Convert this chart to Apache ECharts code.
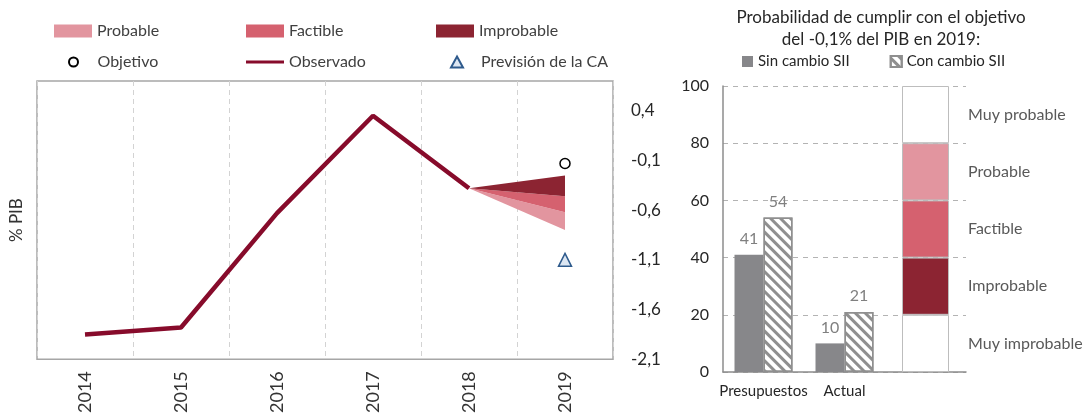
<!DOCTYPE html>
<html>
<head>
<meta charset="utf-8">
<script src="https://cdn.jsdelivr.net/npm/echarts@6/dist/echarts.min.js"></script>
<style>
  html, body { margin: 0; padding: 0; background: #fff; }
  #chart { width: 1090px; height: 416px; }
</style>
</head>
<body>
<div id="chart"></div>
<script>
// panel izquierdo: saldo observado y abanico 2019 (% PIB)
const years = ['2014', '2015', '2016', '2017', '2018', '2019'];
const observado = [-1.85, -1.78, -0.63, 0.35, -0.38, '-'];
const objetivo = ['-', '-', '-', '-', '-', -0.13];
const prevision = ['-', '-', '-', '-', '-', -1.10];
const fanStart = -0.38;                 // arranque del abanico (2018)
const fanImprobable = [-0.25, -0.46];   // [alto, bajo] en 2019
const fanFactible = [-0.46, -0.62];
const fanProbable = [-0.62, -0.80];
const pibTicks = [0.4, -0.1, -0.6, -1.1, -1.6, -2.1];

// panel derecho: probabilidad de cumplir
const escenarios = ['Presupuestos', 'Actual', ''];
const sinCambio = [41, 10, '-'];
const conCambio = [54, 21, '-'];
const escalaNombres = ['Muy improbable', 'Improbable', 'Factible', 'Probable', 'Muy probable'];
const escalaTramos = [20, 20, 20, 20, 20];

const C_PROB = '#e2959f', C_FACT = '#d5616f', C_IMPR = '#8c2432';
const escalaColores = ['#ffffff', C_IMPR, C_FACT, C_PROB, '#ffffff'];

const chart = echarts.init(document.getElementById('chart'));

function fanItem(params, api) {
  const p0 = api.coord([years.indexOf('2018'), fanStart]);
  const p1 = api.coord([api.value(0), api.value(1)]);
  const p2 = api.coord([api.value(0), api.value(2)]);
  return { type: 'polygon', shape: { points: [p0, p1, p2] }, style: { fill: api.visual('color') } };
}
function fanSeries(name, band, color) {
  return {
    name, type: 'custom', xAxisIndex: 0, yAxisIndex: 1,
    renderItem: fanItem, encode: { x: 0, y: [1, 2] },
    itemStyle: { color },
    data: [[years.indexOf('2019'), band[0], band[1]]]
  };
}

// una leyenda por elemento para fijar la rejilla de 3 columnas
function leyenda(left, top, name, icon, h) {
  return {
    left, top, padding: 0, itemWidth: 38, itemHeight: h,
    textStyle: { fontSize: 16, color: '#404040', lineHeight: 18 },
    data: [icon ? { name, icon } : { name }]
  };
}
const LINEA = 'path://M0,0 L38,0 L38,3 L0,3 Z';
const TRIANGULO = 'path://M6,0 L12,11 L0,11 Z';

const option = {
  animation: false,
  textStyle: { fontFamily: 'Lato' },
  title: {
    text: 'Probabilidad de cumplir con el objetivo\ndel -0,1% del PIB en 2019:',
    left: 881, top: 7, padding: 0, textAlign: 'center',
    textStyle: { fontSize: 17, fontWeight: 'normal', color: '#262626', lineHeight: 22 }
  },
  legend: [
    leyenda(54, 22, 'Probable', 'rect', 13),
    leyenda(246, 22, 'Factible', 'rect', 13),
    leyenda(436, 22, 'Improbable', 'rect', 13),
    leyenda(68, 53, 'Objetivo', 'circle', 9),
    leyenda(246, 53, 'Observado', LINEA, 13),
    leyenda(450, 53, 'Previsión de la CA', TRIANGULO, 11),
    {
      left: 742, top: 54, padding: 0, itemWidth: 11, itemHeight: 11, itemGap: 40, icon: 'rect',
      textStyle: { fontSize: 15, color: '#262626' },
      data: ['Sin cambio SII', 'Con cambio SII']
    }
  ],
  grid: [
    { left: 35, top: 81, width: 578, height: 283, show: true, borderColor: '#a6a6a6', borderWidth: 1.5 },
    { left: 723, top: 86, width: 243, height: 286 }
  ],
  xAxis: [
    {
      gridIndex: 0, type: 'category', data: years,
      axisLine: { show: false }, axisTick: { show: false },
      splitLine: { show: true, interval: 0, lineStyle: { color: '#d3d3d3', type: [5, 4] } },
      axisLabel: { interval: 0, rotate: 90, margin: 12, fontSize: 18, color: '#333' }
    },
    {
      gridIndex: 1, type: 'category', data: escenarios,
      axisLine: { lineStyle: { color: '#8c8c8c', width: 1.5 } }, axisTick: { show: false },
      axisLabel: { interval: 0, fontSize: 15, color: '#262626', margin: 12 }
    },
    { gridIndex: 1, type: 'category', data: escenarios, show: false }
  ],
  yAxis: [
    {
      gridIndex: 0, type: 'value', min: -2.1, max: 0.7,
      name: '% PIB', nameLocation: 'middle', nameGap: 12, nameRotate: 90,
      nameTextStyle: { fontSize: 17, color: '#333' },
      axisLabel: { show: false }, axisLine: { show: false }, axisTick: { show: false }, splitLine: { show: false }
    },
    {
      gridIndex: 0, type: 'value', position: 'right', min: -2.1, max: 0.7,
      axisLabel: {
        customValues: pibTicks, margin: 18, fontSize: 17, color: '#262626',
        formatter: v => String(v).replace('.', ',')
      },
      axisLine: { show: false }, axisTick: { show: false }, splitLine: { show: false }
    },
    {
      gridIndex: 1, type: 'value', min: 0, max: 100, interval: 20,
      axisLine: { show: true, lineStyle: { color: '#8c8c8c', width: 1.5 } }, axisTick: { show: false },
      splitLine: { lineStyle: { color: '#b3b3b3', type: [5, 5] } },
      axisLabel: { fontSize: 16, color: '#262626', margin: 14 }
    },
    { gridIndex: 1, type: 'value', min: 0, max: 100, show: false }
  ],
  series: [
    fanSeries('Probable', fanProbable, C_PROB),
    fanSeries('Factible', fanFactible, C_FACT),
    fanSeries('Improbable', fanImprobable, C_IMPR),
    {
      name: 'Observado', type: 'line', xAxisIndex: 0, yAxisIndex: 1,
      data: observado, symbol: 'none',
      lineStyle: { color: '#870b2b', width: 4.5 }, itemStyle: { color: '#870b2b' }
    },
    {
      name: 'Objetivo', type: 'scatter', xAxisIndex: 0, yAxisIndex: 1,
      data: objetivo, symbol: 'circle', symbolSize: 10,
      itemStyle: { color: '#fff', borderColor: '#000', borderWidth: 1.5, opacity: 1 }
    },
    {
      name: 'Previsión de la CA', type: 'scatter', xAxisIndex: 0, yAxisIndex: 1,
      data: prevision, symbol: 'triangle', symbolSize: 13, symbolKeepAspect: true,
      itemStyle: { color: '#dce6f2', borderColor: '#2e5a8c', borderWidth: 1.5, opacity: 1 }
    },
    {
      name: 'Sin cambio SII', type: 'bar', xAxisIndex: 1, yAxisIndex: 2,
      data: sinCambio, barWidth: 29, barGap: '0%',
      itemStyle: { color: '#87878a' },
      label: { show: true, position: 'top', distance: 8, fontSize: 16, color: '#808080' }
    },
    {
      name: 'Con cambio SII', type: 'bar', xAxisIndex: 1, yAxisIndex: 2,
      data: conCambio, barWidth: 29, barGap: '0%',
      itemStyle: {
        color: '#ffffff', borderColor: '#8f8f8f', borderWidth: 1.5,
        decal: { symbol: 'rect', symbolSize: 1, color: '#8f8f8f', dashArrayX: [1, 0], dashArrayY: [3, 4], rotation: Math.PI / 4 }
      },
      label: { show: true, position: 'top', distance: 8, fontSize: 16, color: '#808080' }
    }
  ].concat(escalaTramos.map((v, i) => ({
    name: 'escala' + i, type: 'bar', xAxisIndex: 2, yAxisIndex: 3, stack: 'escala',
    barWidth: 47,
    data: ['-', '-', v],
    itemStyle: { color: escalaColores[i], borderColor: '#bdbdbd', borderWidth: 1 },
    label: {
      show: true, position: 'right', distance: 19, fontSize: 16, color: '#595959',
      formatter: () => escalaNombres[i]
    }
  })))
};

chart.setOption(option);
</script>
</body>
</html>
